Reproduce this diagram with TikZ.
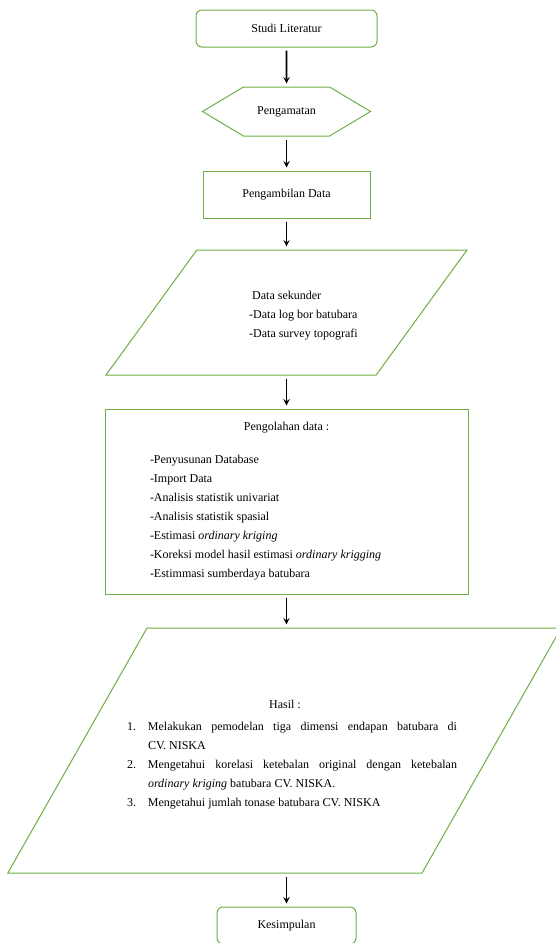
\documentclass[tikz,border=0pt]{standalone}
\usepackage{fontspec}
\setmainfont{Liberation Serif}
\usetikzlibrary{shapes.geometric, shapes.symbols, arrows}
\definecolor{boxgreen}{RGB}{112,173,71}
\tikzstyle{startstop} = [rectangle, rounded corners=6pt, minimum width=181pt, minimum height=37pt,
    text centered, draw=boxgreen, line width=1pt]
\tikzstyle{process} = [rectangle, minimum width=167pt, minimum height=47pt,
    text centered, draw=boxgreen, line width=1pt]
\tikzstyle{prepare} = [signal, signal to=east and west, signal pointer angle=61.8,
    minimum width=168pt, minimum height=49pt, inner sep=0pt, draw=boxgreen, line width=1pt]
\tikzstyle{io} = [trapezium, trapezium stretches body=true, inner sep=0pt,
    draw=boxgreen, line width=1pt]
\tikzstyle{arrow} = [line width=1.8pt,->,>=stealth, shorten <=3pt, shorten >=3pt]

\begin{document}
\begin{tikzpicture}[x=1pt, y=-1pt, font=\fontsize{12}{19}\selectfont]
    \useasboundingbox (0,0) rectangle (555,943);
    \node (lit) [startstop] at (286.5,28.5) {Studi Literatur};
    \node (obs) [prepare] at (286.5,111.5) {Pengamatan};
    \node (take) [process] at (286.5,194.5) {Pengambilan Data};
    \node (sek) [io, trapezium left angle=54, trapezium right angle=126,
        minimum width=361pt] at (286.5,312.5)
        {\parbox[c][125pt][c]{179pt}{\vspace*{4pt}\centering\makebox[0pt]{\hspace*{34pt}\begin{tabular}{@{}l@{}}\hspace*{3pt}Data sekunder\\ -Data log bor batubara\\ -Data survey topografi\end{tabular}}}};
    \node (olah) [process, minimum width=363pt, minimum height=185pt] at (286.5,501.5)
        {\begin{minipage}{273pt}
        \centering Pengolahan data :\par\vspace{14pt}
        \raggedright -Penyusunan Database\\
        -Import Data\\
        -Analisis statistik univariat\\
        -Analisis statistik spasial\\
        -Estimasi \textit{ordinary kriging}\\
        -Koreksi model hasil estimasi \textit{ordinary krigging}\\
        -Estimmasi sumberdaya batubara
        \end{minipage}};
    \node (hasil) [io, trapezium left angle=60.4, trapezium right angle=119.6,
        minimum width=553pt] at (284.5,750.5)
        {\parbox[c][245pt][c]{275pt}{\vspace*{8pt}\centering\makebox[0pt]{\hspace*{15pt}\begin{minipage}{330pt}
        \parindent=0pt
        {\centering\hspace*{-14pt}Hasil :\par}\vspace{3pt}
        \hangindent=21pt \hangafter=1 \makebox[21pt][l]{1.}Melakukan pemodelan tiga dimensi endapan batubara di\linebreak CV. NISKA\par
        \hangindent=21pt \hangafter=1 \makebox[21pt][l]{2.}Mengetahui korelasi ketebalan original dengan ketebalan\linebreak \textit{ordinary kriging} batubara CV. NISKA.\par
        \hangindent=21pt \hangafter=1 \makebox[21pt][l]{3.}Mengetahui jumlah tonase batubara CV. NISKA
        \end{minipage}}}};
    \node (simp) [startstop, minimum width=139pt] at (286.5,925.5) {Kesimpulan};

    \draw [arrow] (lit) -- (obs);
    \draw [arrow] (obs) -- (take);
    \draw [arrow] (take) -- (sek);
    \draw [arrow] (sek) -- (olah);
    \draw [arrow] (olah.south) -- (olah.south |- hasil.north);
    \draw [arrow] (olah.south |- hasil.south) -- (simp);
\end{tikzpicture}
\end{document}
